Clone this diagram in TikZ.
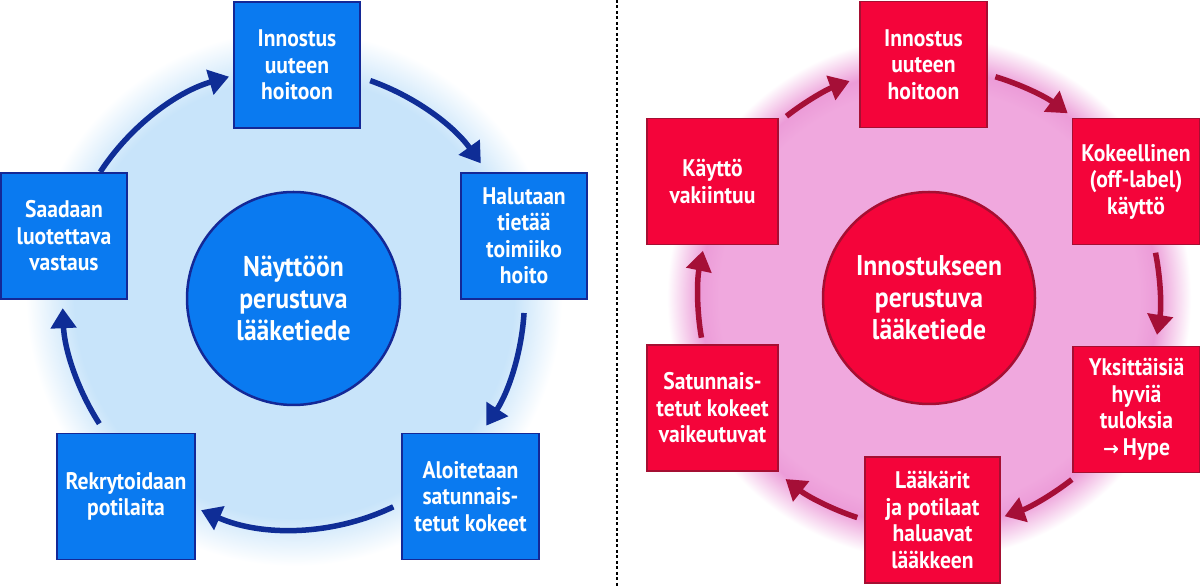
\documentclass[tikz,border=0pt]{standalone}
\usepackage{fontspec}
\setmainfont{PT Sans}[FakeStretch=0.9]
\newfontfamily\symfont{DejaVu Sans}
\usetikzlibrary{arrows.meta}
\definecolor{lbg}{RGB}{200,228,250}
\definecolor{bfill}{RGB}{10,122,240}
\definecolor{bdraw}{RGB}{20,40,150}
\definecolor{barrow}{RGB}{15,45,150}
\definecolor{pbg}{RGB}{240,168,222}
\definecolor{pedge}{RGB}{236,156,216}
\definecolor{rfill}{RGB}{244,4,58}
\definecolor{rdraw}{RGB}{165,15,50}
\definecolor{rarrow}{RGB}{165,15,55}
\pgfdeclareradialshading{blueglow}{\pgfpoint{0bp}{0bp}}{color(0bp)=(lbg); color(20.5bp)=(lbg); color(25bp)=(white); color(50bp)=(white)}
\pgfdeclareradialshading{pinkglow}{\pgfpoint{0bp}{0bp}}{color(0bp)=(pbg); color(20bp)=(pbg); color(21.8bp)=(pedge); color(25bp)=(white); color(50bp)=(white)}
\begin{document}
\begin{tikzpicture}[x=1pt,y=1pt,
  boxtext/.style={text=white, inner sep=0pt, align=center, minimum height=126pt,
    font=\bfseries\fontsize{24}{26.5}\selectfont},
  bbox/.style={boxtext, draw=bdraw, fill=bfill, line width=1.5pt, minimum width=126pt},
  rbox/.style={boxtext, draw=rdraw, fill=rfill, line width=1.5pt, minimum width=127pt},
  hub/.style={circle, text=white, inner sep=0pt, align=center, line width=2.5pt,
    font=\bfseries\fontsize{28.5}{32}\selectfont},
  barr/.style={draw=barrow, line width=5.5pt, -{Triangle[length=20pt,width=25pt]}},
  rarr/.style={draw=rarrow, line width=5.5pt, -{Triangle[length=20pt,width=25pt]}},
  divider/.style={line width=2pt, dash pattern=on 3pt off 2.5pt}
]
\useasboundingbox (0,0) rectangle (1200,586);
\fill[white] (0,0) rectangle (1200,586);
\shade[shading=blueglow] (294,288) circle[radius=268];
\shade[shading=pinkglow] (929,288) circle[radius=262];
\coordinate (dtop) at (617,586);
\coordinate (dbot) at (617,0);
\draw[divider] (dtop) -- (dbot);

% left cycle
\node[hub, draw=bdraw, fill=bfill, minimum size=213pt] (cL) at (293.5,287.5) {Näyttöön\\perustuva\\lääketiede};
\node[bbox] (L1) at (297,521) {Innostus\\uuteen\\hoitoon};
\node[bbox] (L2) at (524,350) {Halutaan\\tietää\\toimiiko\\hoito};
\node[bbox, minimum width=137pt] (L3) at (470.5,89.5) {Aloitetaan\\satunnais-\\tetut kokeet};
\node[bbox, minimum width=138pt] (L4) at (126,89.5) {Rekrytoidaan\\potilaita};
\node[bbox] (L5) at (64,350) {Saadaan\\luotettava\\vastaus};

\draw[barr] (cL.center) ++(146.8:231) arc[start angle=146.8, end angle=106.2, radius=231];
\draw[barr] (cL.center) ++(70.6:231) arc[start angle=70.6, end angle=35.8, radius=231];
\draw[barr] (cL.center) ++(-3.6:231) arc[start angle=-3.6, end angle=-33.4, radius=231];
\draw[barr] (cL.center) ++(-64.4:231) arc[start angle=-64.4, end angle=-113.6, radius=231];
\draw[barr] (cL.center) ++(212.8:231) arc[start angle=212.8, end angle=182.4, radius=231];

% right cycle
\node[hub, draw=rdraw, fill=rfill, minimum size=212pt] (cR) at (929,288) {Innostukseen\\perustuva\\lääketiede};
\node[rbox] (R1) at (923.5,521.5) {Innostus\\uuteen\\hoitoon};
\node[rbox] (R2) at (1136,404.5) {Kokeellinen\\(off-label)\\käyttö};
\node[rbox] (R3) at (1136.5,176.5) {Yksittäisiä\\hyviä\\tuloksia\\{\symfont\fontsize{19}{26}\selectfont →}\,Hype};
\node[rbox, minimum width=135pt] (R4) at (932.5,66) {Lääkärit\\ja potilaat\\haluavat\\lääkkeen};
\node[rbox, minimum width=131pt] (R5) at (712.5,178) {Satunnais-\\tetut kokeet\\vaikeutuvat};
\node[rbox, minimum width=131pt] (R6) at (712.5,404.5) {Käyttö\\vakiintuu};

\draw[rarr] (cR.center) ++(128.1:231) arc[start angle=128.1, end angle=110.1, radius=231];
\draw[rarr] (cR.center) ++(73.3:231) arc[start angle=73.3, end angle=53.1, radius=231];
\draw[rarr] (cR.center) ++(11.3:231) arc[start angle=11.3, end angle=-9.2, radius=231];
\draw[rarr] (cR.center) ++(-51.8:231) arc[start angle=-51.8, end angle=-70.9, radius=231];
\draw[rarr] (cR.center) ++(-108.1:231) arc[start angle=-108.1, end angle=-128.4, radius=231];
\draw[rarr] (cR.center) ++(189.9:231) arc[start angle=189.9, end angle=168.2, radius=231];
\end{tikzpicture}
\end{document}
